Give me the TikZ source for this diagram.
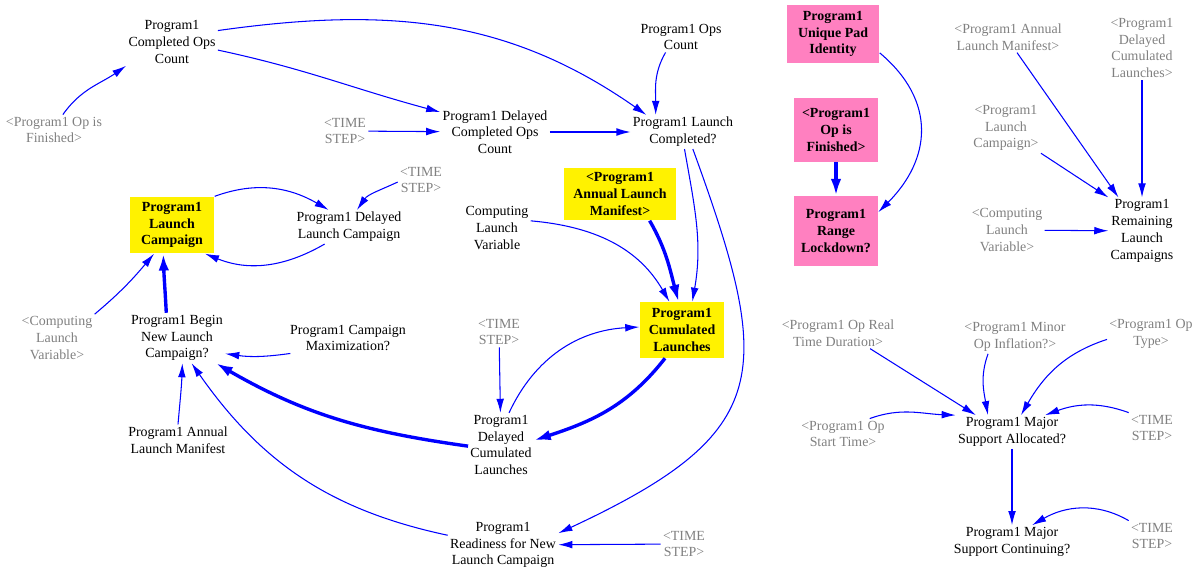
\documentclass[tikz,border=0pt]{standalone}
\usepackage{fontspec}
\setmainfont{Liberation Serif}
\usepackage{xcolor}
\usetikzlibrary{positioning, arrows.meta}
\definecolor{ghostgray}{RGB}{128,128,128}
\definecolor{padpink}{RGB}{255,128,192}
\definecolor{linkblue}{RGB}{0,0,255}

\begin{document}
\begin{tikzpicture}[x=0.025cm, y=0.025cm, % 1 unit = 1 px of the sketch
  var/.style={align=center, inner sep=1.5pt, font=\fontsize{9.9}{11.9}\selectfont},
  ghost/.style={var, text=ghostgray},
  lvl/.style={var, fill=yellow, font=\fontsize{9.9}{11.9}\selectfont\bfseries},
  pad/.style={lvl, fill=padpink},
  lnk/.style={draw=linkblue, line width=0.75pt, -{Latex[length=10pt,width=5.5pt]}},
  heavy/.style={lnk, line width=2.4pt, -{Latex[length=12pt,width=7.5pt]}}]

\useasboundingbox (0,0) rectangle (1194,-571);

% left part
\node[var] (compops) at (172,-42) {Program1\\Completed Ops\\Count};
\node[ghost] (opfin) at (54,-130) {<Program1 Op is\\Finished>};
\node[ghost] (tsA) at (345,-131) {<TIME\\STEP>};
\node[var] (dlyops) at (495,-132) {Program1 Delayed\\Completed Ops\\Count};
\node[var] (launchdone) at (683,-132) {Program1 Launch\\Completed?};
\node[var] (opscount) at (681,-37) {Program1 Ops\\Count};
\node[lvl, minimum width=2.12cm, minimum height=1.42cm] (campaign) at (172,-225) {Program1\\Launch\\Campaign};
\node[var] (dlycamp) at (349,-227) {Program1 Delayed\\Launch Campaign};
\node[ghost] (tsB) at (421,-180) {<TIME\\STEP>};
\node[var] (compvar) at (497,-228) {Computing\\Launch\\Variable};
\node[lvl, minimum width=2.78cm, minimum height=1.32cm] (manifestbox) at (620,-194) {<Program1\\Annual Launch\\Manifest>};
\node[lvl, minimum width=2.12cm, minimum height=1.4cm] (cumul) at (682,-330) {Program1\\Cumulated\\Launches};
\node[ghost] (tsC) at (499,-332) {<TIME\\STEP>};
\node[var] (dlycumul) at (501,-445) {Program1\\Delayed\\Cumulated\\Launches};
\node[var] (ready) at (503,-545) {Program1\\Readiness for New\\Launch Campaign};
\node[ghost] (tsD) at (684,-544) {<TIME\\STEP>};
\node[var] (begin) at (177,-338) {Program1 Begin\\New Launch\\Campaign?};
\node[ghost] (compvarB) at (57,-338) {<Computing\\Launch\\Variable>};
\node[var] (maxim) at (348,-338) {Program1 Campaign\\Maximization?};
\node[var] (manifest) at (178,-440) {Program1 Annual\\Launch Manifest};

% right part
\node[pad, minimum width=2.32cm, minimum height=1.45cm] (padid) at (833,-34) {Program1\\Unique Pad\\Identity};
\node[pad, minimum width=2.1cm, minimum height=1.6cm] (opfinbox) at (836,-130) {<Program1\\Op is\\Finished>};
\node[pad, minimum width=2.1cm, minimum height=1.75cm] (lockdown) at (836,-231) {Program1\\Range\\Lockdown?};
\node[ghost] (manifestC) at (1008,-37) {<Program1 Annual\\Launch Manifest>};
\node[ghost] (dlycumulB) at (1142,-48) {<Program1\\Delayed\\Cumulated\\Launches>};
\node[ghost] (campaignB) at (1006,-128) {<Program1\\Launch\\Campaign>};
\node[ghost] (compvarC) at (1007,-230) {<Computing\\Launch\\Variable>};
\node[var] (remaining) at (1142,-231) {Program1\\Remaining\\Launch\\Campaigns};
\node[ghost] (realdur) at (838,-333) {<Program1 Op Real\\Time Duration>};
\node[ghost] (minorinf) at (1015,-337) {<Program1 Minor\\Op Inflation?>};
\node[ghost] (optype) at (1151,-334) {<Program1 Op\\Type>};
\node[ghost] (starttime) at (843,-434) {<Program1 Op\\Start Time>};
\node[var] (majalloc) at (1012,-432) {Program1 Major\\Support Allocated?};
\node[ghost] (tsE) at (1152,-428) {<TIME\\STEP>};
\node[var] (majcont) at (1012,-542) {Program1 Major\\Support Continuing?};
\node[ghost] (tsF) at (1152,-536) {<TIME\\STEP>};

\draw[lnk] (opfin.60) to[out=55,in=215] (compops.south west);
\draw[lnk] (compops.14) to[out=8,in=145] (launchdone.155);
\draw[lnk] (compops.-10) to[out=-12,in=165] (dlyops.160);
\draw[lnk] (tsA) -- (dlyops);
\draw[lnk] (dlyops) -- (launchdone);
\draw[lnk] (opscount.225) to[out=240,in=90] (launchdone.148);
\draw[lnk] (launchdone.-85) to[out=-80,in=80] (cumul.70);
\draw[lnk] (launchdone.-60) to[out=-70,in=25,looseness=1.5] (ready.12);
\draw[lnk] (compvar.12) to[out=-5,in=120] (cumul.114);
\draw[heavy] (manifestbox.-42) to[out=-60,in=105] (cumul.97);
\draw[heavy] (cumul.239) to[out=232,in=18] (dlycumul.8);
\draw[lnk] (dlycumul.76) to[out=65,in=183] (cumul.176);
\draw[lnk] (tsC) -- (dlycumul);
\draw[heavy] (dlycumul.182) to[out=172,in=-30] (begin.-33);
\draw[lnk] (ready.170) to[out=168,in=-55] (begin.-60);
\draw[lnk] (tsD) -- (ready);
\draw[lnk] (maxim.195) to[out=188,in=-8] (begin.-18);
\draw[lnk] (manifest.north) to[out=85,in=-92] (begin.-78);
\draw[heavy] (begin.113) to[out=93,in=-88] (campaign.253);
\draw[lnk] (compvarB.north east) to[out=40,in=230] (campaign.238);
\draw[lnk] (campaign.north east) to[out=20,in=150] (dlycamp.140);
\draw[lnk] (dlycamp.215) to[out=210,in=-22] (campaign.-41);
\draw[lnk] (tsB.185) to[out=205,in=55] (dlycamp.65);

\draw[lnk] (padid.-22) to[out=-40,in=45,looseness=1.2] (lockdown.24);
\draw[heavy] (opfinbox) -- (lockdown);
\draw[lnk] (manifestC.-60) -- (remaining.125);
\draw[lnk] (dlycumulB) -- (remaining);
\draw[lnk] (campaignB.south east) -- (remaining.north west);
\draw[lnk] (compvarC) -- (remaining);
\draw[lnk] (realdur.-26) -- (majalloc.155);
\draw[lnk] (minorinf.212) to[out=250,in=100] (majalloc.145);
\draw[lnk] (optype.187) to[out=198,in=60] (majalloc.62);
\draw[lnk] (starttime.30) to[out=20,in=178] (majalloc.north west);
\draw[lnk] (tsE.north west) to[out=160,in=20] (majalloc.27);
\draw[lnk] (majalloc) -- (majcont);
\draw[lnk] (tsF.north west) to[out=150,in=30] (majcont.40);

\end{tikzpicture}
\end{document}
